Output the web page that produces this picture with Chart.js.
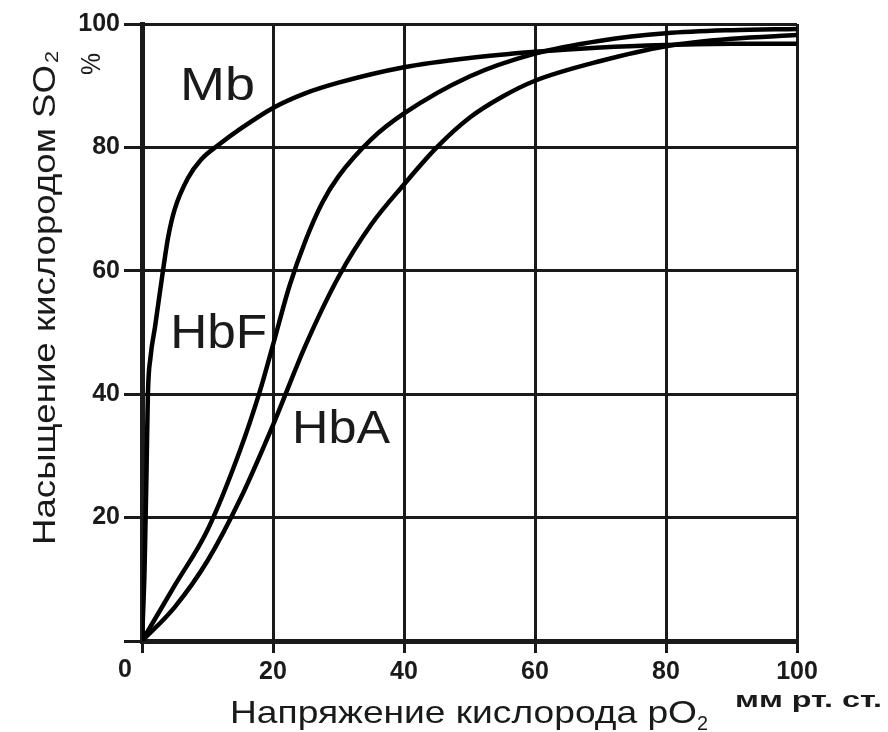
<!DOCTYPE html>
<html>
<head>
<meta charset="utf-8">
<script src="https://cdn.jsdelivr.net/npm/chart.js@4.4.1/dist/chart.umd.min.js"></script>
<style>
    body { margin: 0; background: #fff; }
    #wrap { width: 888px; height: 732px; position: relative; }
</style>
</head>
<body>
<div id="wrap"><canvas id="curveChart"></canvas></div>
<script>
// pO2, mm Hg -> saturation SO2, %
const pO2Mb = [0, 0.4, 0.7, 0.9, 1.3, 2, 3.2, 4, 5, 7, 9, 11.8, 15, 20, 25, 30, 40, 50, 60, 70, 80, 90, 100];
const satMb = [0, 12, 28, 40, 46, 51, 60, 65.5, 70, 75, 78, 80.5, 83, 86.4, 88.8, 90.5, 93, 94.5, 95.5, 96.2, 96.6, 96.8, 96.8];

const pO2HbF = [0, 5, 10, 15, 18, 20, 22.5, 25, 27.5, 30, 35, 40, 50, 60, 70, 80, 90, 100];
const satHbF = [0, 9, 18, 31, 40.5, 48, 57.5, 65, 71, 75.3, 81.3, 85.5, 91.5, 95.2, 97.3, 98.5, 99, 99.2];

const pO2HbA = [0, 5, 10, 15, 20, 25, 30, 35, 40, 45, 50, 55, 60, 70, 80, 90, 100];
const satHbA = [0, 5.5, 13, 23, 35, 48, 59, 67.5, 74, 80, 84.8, 88.2, 90.8, 94, 96.4, 97.6, 98.2];

const xTicks = [0, 20, 40, 60, 80, 100];
const yTicks = [0, 20, 40, 60, 80, 100];

const curveNames = ['Mb', 'HbF', 'HbA'];
// where each curve name sits, in data units (pO2, SO2 at text baseline)
const labelX = [5.8, 4.3, 22.9];
const labelY = [87.7, 47.5, 32.1];

const FONT = '"Liberation Sans", Arial, sans-serif';

function toPoints(xs, ys) {
    return xs.map((x, i) => ({ x: x, y: ys[i] }));
}

// draw text squeezed/stretched to a given width
function drawFit(ctx, text, x, y, size, width, weight) {
    ctx.save();
    ctx.font = `${weight || 'normal'} ${size}px ${FONT}`;
    const w = ctx.measureText(text).width;
    ctx.translate(x, y);
    ctx.scale(width / w, 1);
    ctx.fillText(text, 0, 0);
    ctx.restore();
}

const textPlugin = {
    id: 'textPlugin',
    afterDraw(chart) {
        const ctx = chart.ctx;
        const xs = chart.scales.x;
        const ys = chart.scales.y;
        ctx.save();
        ctx.fillStyle = '#1a1a1a';
        ctx.textAlign = 'left';
        ctx.textBaseline = 'alphabetic';

        // curve names
        const sizes = [46, 49, 46];
        const widths = [75, 97, 98];
        curveNames.forEach((name, i) => {
            drawFit(ctx, name, xs.getPixelForValue(labelX[i]), ys.getPixelForValue(labelY[i]), sizes[i], widths[i]);
        });

        // shared origin label
        ctx.font = `bold 25px ${FONT}`;
        ctx.textAlign = 'center';
        ctx.fillText('0', xs.getPixelForValue(0) - 17, ys.getPixelForValue(0) + 36);
        ctx.textAlign = 'left';

        // x axis title
        drawFit(ctx, 'Напряжение кислорода pO', 230, 723, 32, 467);
        drawFit(ctx, '2', 697, 730, 20, 11);

        // units
        drawFit(ctx, 'мм рт. ст.', 735, 707, 22, 147, 'bold');

        // y axis title (rotated)
        ctx.save();
        ctx.translate(55, 545);
        ctx.rotate(-Math.PI / 2);
        drawFit(ctx, 'Насыщение кислородом SO', 0, 0, 32, 480);
        drawFit(ctx, '2', 482, 3, 18, 12);
        drawFit(ctx, '%', 470, 45, 28, 22);
        ctx.restore();

        ctx.restore();
    }
};

const lineStyle = {
    borderColor: '#000',
    borderWidth: 4.5,
    pointRadius: 0,
    fill: false,
    cubicInterpolationMode: 'monotone'
};

new Chart(document.getElementById('curveChart').getContext('2d'), {
    type: 'line',
    data: {
        datasets: [
            Object.assign({ label: 'Mb', data: toPoints(pO2Mb, satMb) }, lineStyle),
            Object.assign({ label: 'HbF', data: toPoints(pO2HbF, satHbF) }, lineStyle),
            Object.assign({ label: 'HbA', data: toPoints(pO2HbA, satHbA) }, lineStyle)
        ]
    },
    options: {
        responsive: true,
        maintainAspectRatio: false,
        animation: false,
        layout: { padding: { top: 24, right: 91, left: 0, bottom: 0 } },
        plugins: {
            legend: { display: false },
            tooltip: { enabled: false }
        },
        scales: {
            x: {
                type: 'linear',
                min: 0,
                max: 100,
                afterBuildTicks: scale => { scale.ticks = xTicks.map(v => ({ value: v })); },
                afterFit: scale => { scale.height = 91; },
                ticks: {
                    color: '#1a1a1a',
                    font: { family: FONT, size: 25, weight: 'bold' },
                    padding: 4,
                    maxRotation: 0,
                    callback: value => value === 0 ? '' : value
                },
                grid: { color: '#1a1a1a', lineWidth: 3, tickLength: 12 },
                border: { color: '#1a1a1a', width: 5 }
            },
            y: {
                min: 0,
                max: 100,
                afterBuildTicks: scale => { scale.ticks = yTicks.map(v => ({ value: v })); },
                afterFit: scale => { scale.width = 142; },
                ticks: {
                    color: '#1a1a1a',
                    font: { family: FONT, size: 25, weight: 'bold' },
                    padding: 4,
                    callback: value => value === 0 ? '' : value
                },
                grid: { color: '#1a1a1a', lineWidth: 3, tickLength: 18 },
                border: { color: '#1a1a1a', width: 5 }
            }
        }
    },
    plugins: [textPlugin]
});
</script>
</body>
</html>
